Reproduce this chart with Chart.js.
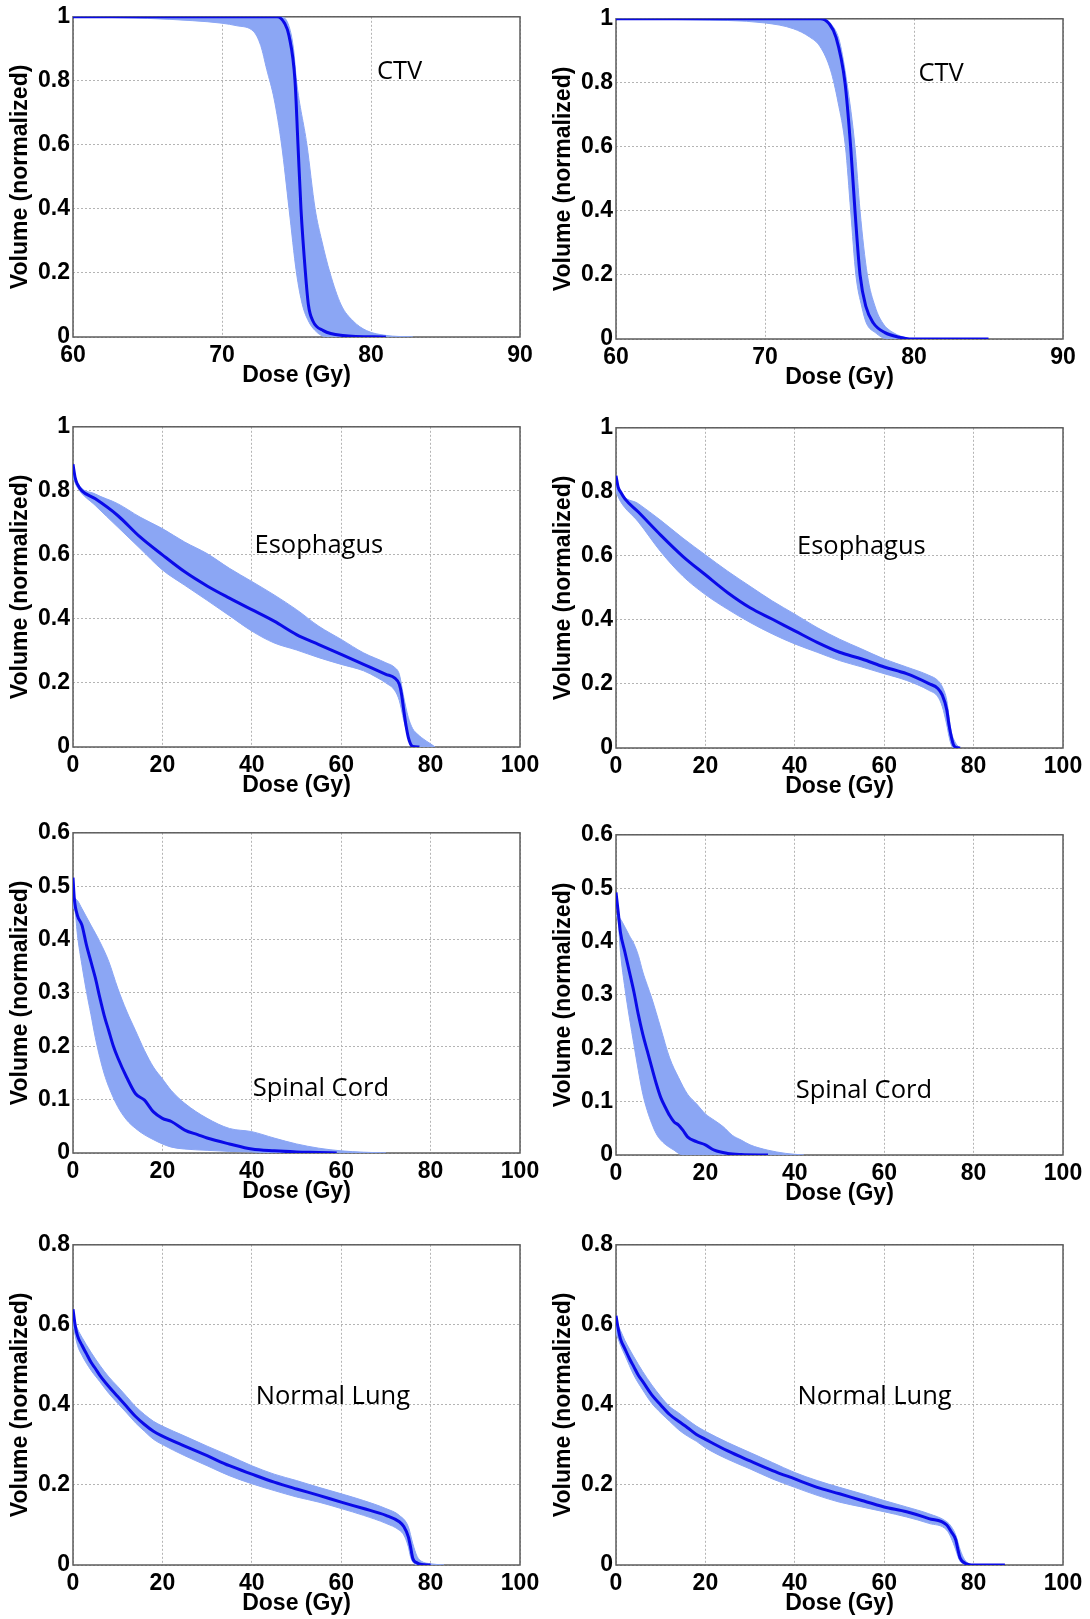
<!DOCTYPE html>
<html>
<head>
<meta charset="utf-8">
<script src="https://cdn.jsdelivr.net/npm/chart.js@4.4.0/dist/chart.umd.min.js"></script>
<style>
  html, body { margin: 0; padding: 0; background: #fff; }
  body { width: 1090px; height: 1619px; overflow: hidden; position: relative; }
  canvas { position: absolute; }
</style>
</head>
<body>
<script>
// tick labels
const doseTicksCtv = [60, 70, 80, 90];
const doseTicks = [0, 20, 40, 60, 80, 100];
const volTicks = [0, 0.2, 0.4, 0.6, 0.8, 1];
const volTicksCord = [0, 0.1, 0.2, 0.3, 0.4, 0.5, 0.6];
const volTicksLung = [0, 0.2, 0.4, 0.6, 0.8];

// CTV - left / right  ([dose, volume])
const ctvMeanA = [[60,1],[73.7,1],[74.2,0.98],[74.5,0.94],[74.9,0.8],[75.1,0.6],[75.3,0.4],[75.6,0.2],[75.8,0.1],[76.1,0.05],[76.8,0.02],[78.1,0.005],[81,0]];
const ctvUpperA = [[60,1],[74.0,1],[74.5,0.97],[74.8,0.9],[75.0,0.8],[75.7,0.6],[76.25,0.4],[76.7,0.3],[77.25,0.2],[78.0,0.1],[78.8,0.05],[79.7,0.02],[81,0.005],[82.8,0]];
const ctvLowerA = [[60,1],[65,0.995],[68,0.988],[70,0.98],[71,0.972],[72.1,0.955],[72.6,0.91],[73.0,0.836],[73.5,0.743],[74.0,0.6],[74.5,0.4],[75.0,0.2],[75.4,0.1],[75.8,0.05],[76.25,0.02],[77.0,0],[82.8,0]];

const ctvMeanB = [[60,1],[73.7,1],[74.3,0.985],[74.76,0.943],[75.37,0.8],[75.75,0.6],[76.04,0.4],[76.38,0.2],[76.78,0.1],[77.27,0.05],[78.05,0.02],[79.06,0.005],[79.7,0],[85,0]];
const ctvUpperB = [[60,1],[73.9,1],[74.5,0.98],[75.0,0.93],[75.5,0.8],[76.04,0.6],[76.38,0.4],[76.87,0.2],[77.4,0.1],[77.9,0.05],[78.6,0.02],[79.7,0]];
const ctvLowerB = [[60,1],[65,0.997],[70,0.987],[71.9,0.969],[73.0,0.943],[73.7,0.913],[74.4,0.84],[74.9,0.74],[75.4,0.6],[75.75,0.4],[76.1,0.2],[76.5,0.1],[76.8,0.05],[77.4,0.02],[78.2,0],[79.7,0]];

// Esophagus
const esoMeanA = [[0,.883],[0.5,.84],[1,.82],[2,.80],[5,.775],[10,.723],[15,.656],[20,.60],[25,.547],[30,.503],[35,.465],[40,.429],[45,.393],[50,.351],[55,.32],[60,.289],[65,.258],[70,.227],[72,.215],[73,.196],[73.5,.165],[74,.114],[74.5,.067],[75,.031],[75.5,.01],[76,.002],[77.5,0]];
const esoUpperA = [[0,.87],[1,.826],[5,.79],[10,.76],[15,.718],[20,.682],[25,.64],[30,.604],[35,.558],[40,.517],[45,.475],[50,.429],[55,.377],[60,.336],[65,.294],[70,.263],[72,.248],[73,.227],[74,.155],[75,.093],[76,.057],[77,.041],[78,.029],[79,.019],[80,.01],[81,0]];
const esoLowerA = [[0,.84],[1,.81],[5,.754],[10,.687],[15,.62],[20,.553],[25,.505],[30,.458],[35,.41],[40,.362],[45,.325],[50,.303],[55,.279],[60,.258],[65,.238],[68,.217],[70,.20],[72,.176],[73,.145],[74,.083],[75,.031],[75.5,.01],[76,0],[81,0]];

const esoMeanB = [[0,.85],[0.5,.814],[1,.80],[2,.778],[5,.737],[10,.665],[15,.598],[20,.541],[25,.485],[30,.438],[35,.402],[40,.366],[45,.33],[50,.299],[55,.278],[60,.253],[65,.232],[70,.201],[72,.186],[73,.165],[74,.119],[74.5,.072],[75,.036],[75.5,.01],[76,.002],[77,0]];
const esoUpperB = [[0,.84],[1,.80],[5,.763],[10,.711],[15,.655],[20,.603],[25,.552],[30,.505],[35,.459],[40,.418],[45,.376],[50,.34],[55,.309],[60,.278],[65,.253],[70,.227],[72,.211],[73,.191],[74,.149],[74.5,.098],[75,.052],[76,.015],[77,0]];
const esoLowerB = [[0,.80],[1,.77],[5,.706],[10,.613],[15,.536],[20,.479],[25,.433],[30,.392],[35,.356],[40,.325],[45,.299],[50,.273],[55,.253],[60,.232],[65,.211],[70,.18],[72,.16],[73,.129],[74,.072],[74.5,.036],[75,.01],[75.5,0],[77,0]];

// Spinal Cord
const cordMeanA = [[0,.516],[0.3,.476],[1,.445],[2,.427],[3,.39],[4,.359],[5,.328],[6,.291],[7,.257],[8,.229],[9,.201],[10,.179],[12,.142],[14,.111],[16,.099],[18,.077],[20,.065],[22,.059],[25,.043],[28,.034],[30,.028],[35,.017],[40,.0074],[45,.004],[50,.002],[55,.001],[59,0]];
const cordUpperA = [[0,.48],[1,.473],[2,.458],[4,.427],[6,.396],[8,.359],[10,.309],[12,.266],[14,.229],[16,.192],[18,.161],[20,.139],[22,.117],[25,.093],[30,.065],[35,.046],[40,.04],[45,.028],[50,.017],[55,.009],[60,.004],[65,.0015],[70,0]];
const cordLowerA = [[0,.46],[0.5,.45],[1,.408],[2,.352],[3,.303],[4,.26],[5,.216],[6,.179],[7,.148],[8,.124],[10,.087],[12,.062],[14,.046],[16,.034],[18,.025],[20,.017],[22,.011],[25,.0074],[30,.005],[35,.003],[40,.002],[45,0],[70,0]];

const cordMeanB = [[0,.492],[0.5,.455],[1,.417],[2,.38],[3,.343],[4,.306],[5,.263],[6,.226],[7,.195],[8,.164],[9,.134],[10,.108],[11,.09],[12,.074],[13,.062],[14,.056],[15,.046],[16,.034],[18,.025],[20,.019],[22,.009],[25,.003],[28,.001],[34,0]];
const cordUpperB = [[0,.45],[1,.442],[2,.427],[3,.411],[4,.396],[5,.374],[6,.343],[7,.318],[8,.294],[10,.238],[12,.182],[14,.145],[16,.114],[18,.096],[20,.077],[22,.065],[24,.053],[26,.037],[28,.028],[30,.019],[34,.009],[38,.003],[42,0]];
const cordLowerB = [[0,.45],[0.5,.436],[1,.38],[2,.312],[3,.257],[4,.207],[5,.158],[6,.114],[7,.083],[8,.059],[9,.04],[10,.028],[12,.014],[13,.009],[14,.003],[15,0],[42,0]];

// Normal Lung
const lungMeanA = [[0,.639],[0.5,.598],[1,.573],[2,.549],[3,.528],[4,.507],[5,.491],[6,.474],[8,.446],[10,.421],[12,.396],[14,.371],[16,.351],[18,.334],[20,.322],[25,.297],[30,.273],[35,.248],[40,.227],[45,.207],[50,.19],[55,.174],[60,.157],[65,.141],[70,.124],[73,.108],[74,.096],[75,.071],[75.5,.046],[76,.017],[77,.005],[78,.001],[80,0]];
const lungUpperA = [[0,.62],[1,.59],[2,.569],[4,.532],[6,.499],[8,.47],[10,.446],[12,.421],[14,.396],[16,.376],[18,.359],[20,.347],[25,.322],[30,.297],[35,.273],[40,.248],[45,.227],[50,.211],[55,.194],[60,.178],[65,.161],[70,.141],[73,.124],[75,.096],[76,.054],[77,.021],[78,.009],[80,.003],[83,0]];
const lungLowerA = [[0,.60],[1,.549],[2,.524],[4,.487],[6,.458],[8,.429],[10,.404],[12,.38],[14,.355],[16,.334],[18,.314],[20,.301],[25,.273],[30,.248],[35,.223],[40,.203],[45,.186],[50,.17],[55,.157],[60,.141],[65,.124],[70,.104],[73,.087],[74,.075],[75,.046],[75.5,.021],[76,.008],[77,0],[83,0]];

const lungMeanB = [[0,.623],[0.5,.59],[1,.565],[2,.54],[3,.516],[4,.495],[5,.474],[6,.458],[8,.425],[10,.40],[12,.376],[14,.359],[16,.343],[18,.326],[20,.314],[25,.285],[30,.26],[35,.236],[40,.215],[45,.194],[50,.178],[55,.161],[60,.145],[65,.133],[70,.116],[74,.10],[75,.083],[76,.063],[76.5,.038],[77,.017],[78,.005],[79,.001],[80,0],[87,0]];
const lungUpperB = [[0,.61],[1,.586],[2,.561],[4,.52],[6,.483],[8,.45],[10,.421],[12,.396],[14,.38],[16,.363],[18,.347],[20,.334],[25,.306],[30,.281],[35,.256],[40,.231],[45,.211],[50,.194],[55,.178],[60,.161],[65,.145],[70,.128],[74,.108],[75,.096],[76,.075],[77,.038],[78,.013],[79,.003],[80,0]];
const lungLowerB = [[0,.58],[1,.549],[2,.524],[4,.474],[6,.437],[8,.404],[10,.38],[12,.359],[14,.338],[16,.322],[18,.309],[20,.293],[25,.264],[30,.24],[35,.215],[40,.194],[45,.174],[50,.157],[55,.145],[60,.133],[65,.12],[70,.104],[74,.087],[75,.067],[76,.038],[76.5,.021],[77,.009],[78,.002],[79,0],[80,0]];

// panel list: structure name, data, axis ranges
const panels = [
  { name: 'CTV', mean: ctvMeanA, upper: ctvUpperA, lower: ctvLowerA, xMin: 60, xMax: 90, xTicks: doseTicksCtv, yMax: 1, yTicks: volTicks, at: [80.4, 0.805] },
  { name: 'CTV', mean: ctvMeanB, upper: ctvUpperB, lower: ctvLowerB, xMin: 60, xMax: 90, xTicks: doseTicksCtv, yMax: 1, yTicks: volTicks, at: [80.3, 0.806] },
  { name: 'Esophagus', mean: esoMeanA, upper: esoUpperA, lower: esoLowerA, xMin: 0, xMax: 100, xTicks: doseTicks, yMax: 1, yTicks: volTicks, at: [40.6, 0.607] },
  { name: 'Esophagus', mean: esoMeanB, upper: esoUpperB, lower: esoLowerB, xMin: 0, xMax: 100, xTicks: doseTicks, yMax: 1, yTicks: volTicks, at: [40.5, 0.605] },
  { name: 'Spinal Cord', mean: cordMeanA, upper: cordUpperA, lower: cordLowerA, xMin: 0, xMax: 100, xTicks: doseTicks, yMax: 0.6, yTicks: volTicksCord, at: [40.2, 0.107] },
  { name: 'Spinal Cord', mean: cordMeanB, upper: cordUpperB, lower: cordLowerB, xMin: 0, xMax: 100, xTicks: doseTicks, yMax: 0.6, yTicks: volTicksCord, at: [40.2, 0.107] },
  { name: 'Normal Lung', mean: lungMeanA, upper: lungUpperA, lower: lungLowerA, xMin: 0, xMax: 100, xTicks: doseTicks, yMax: 0.8, yTicks: volTicksLung, at: [40.9, 0.402] },
  { name: 'Normal Lung', mean: lungMeanB, upper: lungUpperB, lower: lungLowerB, xMin: 0, xMax: 100, xTicks: doseTicks, yMax: 0.8, yTicks: volTicksLung, at: [40.6, 0.403] }
];

// where each canvas sits on the page
const panelPos = [[0, 0], [543, 2], [0, 410], [543, 411], [0, 816], [543, 818], [0, 1228], [543, 1228]];

const BAND = '#8ba6f4';
const LINE = '#0a0ae8';

Chart.defaults.font.family = "'Liberation Sans', Arial, sans-serif";
Chart.defaults.color = '#000';

const toXY = arr => arr.map(p => ({ x: p[0], y: p[1] }));
const fmt = v => String(+Number(v).toFixed(2));

// box around plot + structure label
const framePlugin = {
  id: 'frame',
  beforeDatasetsDraw(chart) {
    const { ctx, chartArea: a } = chart;
    ctx.save();
    ctx.strokeStyle = '#5c5c5c';
    ctx.lineWidth = 1.5;
    ctx.strokeRect(a.left, a.top, a.width, a.height);
    ctx.restore();
  },
  afterDraw(chart) {
    const o = chart.options.plugins.frame;
    const { ctx, scales } = chart;
    ctx.save();
    ctx.font = "25.5px 'Open Sans', 'Noto Sans', sans-serif";
    ctx.fillStyle = '#000';
    ctx.textBaseline = 'alphabetic';
    ctx.textAlign = 'left';
    ctx.fillText(o.text, scales.x.getPixelForValue(o.x), scales.y.getPixelForValue(o.y));
    ctx.restore();
  }
};

panels.forEach((p, i) => {
  const cv = document.createElement('canvas');
  cv.width = 545;
  cv.height = 393;
  cv.style.left = panelPos[i][0] + 'px';
  cv.style.top = panelPos[i][1] + 'px';
  cv.style.width = '545px';
  cv.style.height = '393px';
  document.body.appendChild(cv);

  const lineOpts = { pointRadius: 0, cubicInterpolationMode: 'monotone' };

  new Chart(cv, {
    type: 'line',
    data: {
      datasets: [
        { ...lineOpts, data: toXY(p.mean), borderColor: LINE, borderWidth: 3, fill: false },
        { ...lineOpts, data: toXY(p.upper), borderColor: BAND, borderWidth: 1, backgroundColor: BAND, fill: '+1' },
        { ...lineOpts, data: toXY(p.lower), borderColor: BAND, borderWidth: 1, fill: false }
      ]
    },
    options: {
      responsive: false,
      animation: false,
      layout: { padding: { top: 14, right: 25, bottom: 0, left: 0 } },
      plugins: {
        legend: { display: false },
        tooltip: { enabled: false },
        frame: { text: p.name, x: p.at[0], y: p.at[1] }
      },
      scales: {
        x: {
          type: 'linear',
          min: p.xMin,
          max: p.xMax,
          afterBuildTicks: s => { s.ticks = p.xTicks.map(v => ({ value: v })); },
          afterFit: s => { s.height = 56; },
          grid: { color: '#b4b4b4', lineWidth: 1, drawTicks: false },
          border: { display: false, dash: [2, 2] },
          ticks: { padding: 5, autoSkip: false, maxRotation: 0, color: '#000', font: { size: 23, weight: 'bold' }, callback: v => fmt(v) },
          title: { display: true, text: 'Dose (Gy)', color: '#000', font: { size: 23, weight: 'bold' }, padding: { top: 0, bottom: 4 } }
        },
        y: {
          type: 'linear',
          min: 0,
          max: p.yMax,
          afterBuildTicks: s => { s.ticks = p.yTicks.map(v => ({ value: v })); },
          afterFit: s => { s.width = 73; },
          grid: { color: '#b4b4b4', lineWidth: 1, drawTicks: false },
          border: { display: false, dash: [2, 2] },
          ticks: { padding: 3, autoSkip: false, color: '#000', font: { size: 23, weight: 'bold' }, callback: v => fmt(v) },
          title: { display: true, text: 'Volume (normalized)', color: '#000', font: { size: 23, weight: 'bold' }, padding: { top: 7, bottom: 0 } }
        }
      }
    },
    plugins: [framePlugin]
  });
});
</script>
</body>
</html>
